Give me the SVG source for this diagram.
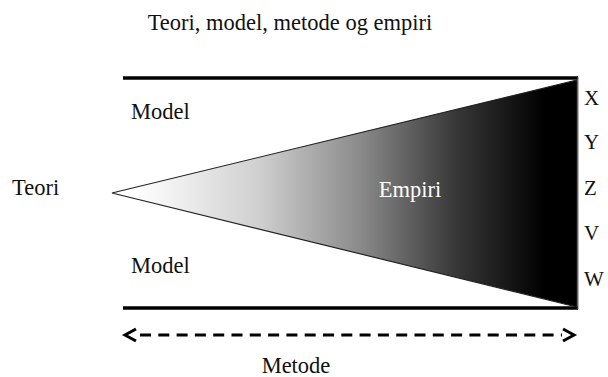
<svg xmlns="http://www.w3.org/2000/svg" width="608" height="377" viewBox="0 0 608 377">
<style>
text{font-family:"Liberation Serif","DejaVu Serif",serif;font-size:22.5px;fill:#111}
.side{font-size:21px}
.bar{stroke:#000;stroke-width:3.5;fill:none}
.arr{stroke:#000;stroke-width:3;fill:none}
</style>
<defs>
<linearGradient id="g" gradientUnits="userSpaceOnUse" x1="135" y1="0" x2="545" y2="0">
<stop offset="0" stop-color="#fff"/>
<stop offset="0.3" stop-color="#d0d0d0"/>
<stop offset="0.55" stop-color="#8a8a8a"/>
<stop offset="0.78" stop-color="#383838"/>
<stop offset="1" stop-color="#000"/>
</linearGradient>
</defs>
<rect width="608" height="377" fill="#fff"/>
<text x="290" y="30" text-anchor="middle">Teori, model, metode og empiri</text>
<g id="frame">
<line class="bar" x1="123" y1="78" x2="578" y2="78"/>
<line class="bar" x1="123" y1="308" x2="578" y2="308"/>
<line x1="578" y1="77" x2="578" y2="309" stroke="#777" stroke-width="1"/>
</g>
<g id="empiri">
<polygon points="112,193 577,80 577,307" fill="url(#g)" stroke="#222" stroke-width="1.2"/>
<text x="410" y="197" text-anchor="middle" style="fill:#fff">Empiri</text>
</g>
<g id="teori"><text x="12" y="195">Teori</text></g>
<g id="model-top"><text x="131" y="119">Model</text></g>
<g id="model-bottom"><text x="131" y="273">Model</text></g>
<g id="labels">
<text class="side" x="584" y="105">X</text>
<text class="side" x="584" y="149">Y</text>
<text class="side" x="584" y="195">Z</text>
<text class="side" x="584" y="240">V</text>
<text class="side" x="584" y="286">W</text>
</g>
<g id="connectors">
<line class="arr" x1="140" y1="335" x2="562" y2="335" stroke-dasharray="11 7.3"/>
<polyline class="arr" points="136,329 125,335 136,341"/>
<polyline class="arr" points="563,329 574,335 563,341"/>
</g>
<g id="metode"><text x="296" y="373" text-anchor="middle">Metode</text></g>
</svg>
